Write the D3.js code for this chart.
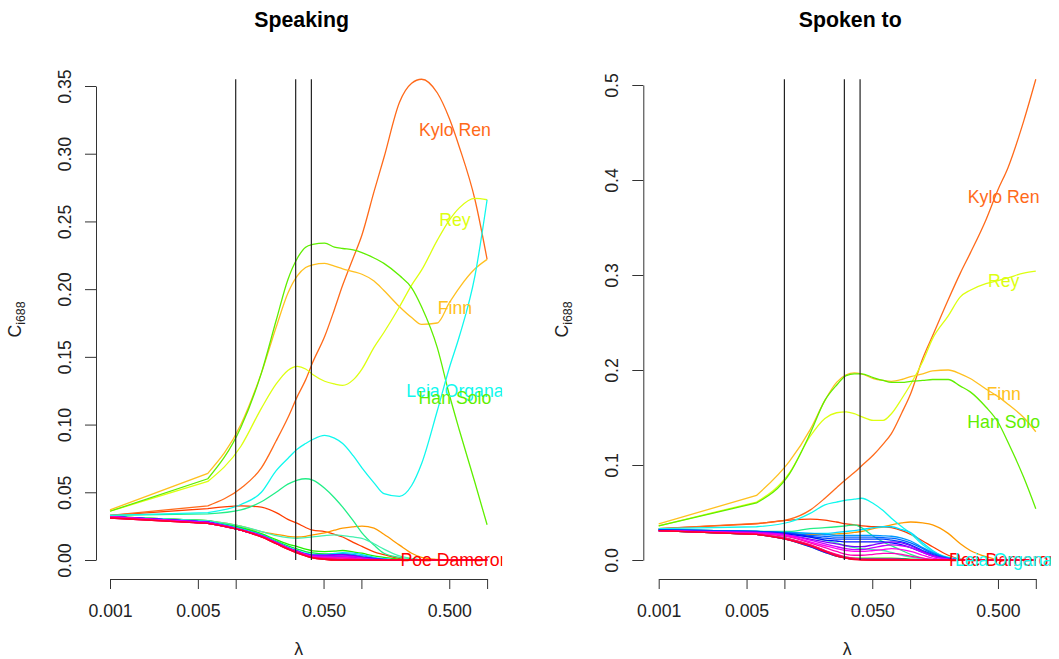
<!DOCTYPE html>
<html>
<head>
<meta charset="utf-8">
<script src="https://cdn.jsdelivr.net/npm/d3@7"></script>
<style>
body { margin: 0; background: #fff; }
text { font-family: "Liberation Sans", Arial, Helvetica, sans-serif; }
</style>
</head>
<body>
<div id="chart"></div>
<script>
// lambda grid the paths were evaluated on
var lambda = [0.001, 0.006, 0.011, 0.016, 0.021, 0.026, 0.031, 0.036, 0.041, 0.051, 0.061, 0.071,
              0.086, 0.101, 0.126, 0.151, 0.201, 0.251, 0.301, 0.401, 0.501, 0.601, 0.801, 1.0];

// characters, in plotting order (only some are labelled)
var names = ["Poe Dameron", "c1", "Kylo Ren", "c3", "Finn", "Rey", "Han Solo", "c7", "c8", "c9",
             "c10", "Leia Organa", "c12", "c13", "c14", "c15", "c16", "c17", "c18", "c19",
             "c20", "c21", "c22", "c23", "c24"];
var colors = ["#FF0000", "#FF3D00", "#FF6A1A", "#FF9A00", "#FFC020", "#DDFF10", "#5FEF00", "#22EE00",
              "#00EE3A", "#22EE88", "#44F0B0", "#10F8EE", "#00DDFF", "#0099FF", "#0066FF", "#0040FF",
              "#0010FF", "#3300FF", "#7A00FF", "#C800FF", "#FF00F0", "#FF00B8", "#FF0088", "#FF0058",
              "#FF002A"];

// C_i688 while speaking, one row per character
var speaking = [
  [0.032, 0.027, 0.022, 0.017, 0.012, 0.008, 0.005, 0.003, 0.0015, 0.0005, 0, 0, 0, 0, 0, 0, 0, 0, 0, 0, 0, 0, 0, 0], // Poe Dameron
  [0.033, 0.038, 0.040, 0.039, 0.035, 0.030, 0.027, 0.024, 0.022, 0.021, 0.019, 0.017, 0.013, 0.010, 0.006, 0.004, 0.001, 0, 0, 0, 0, 0, 0, 0],
  [0.033, 0.040, 0.053, 0.068, 0.088, 0.105, 0.121, 0.133, 0.146, 0.165, 0.185, 0.203, 0.223, 0.240, 0.272, 0.297, 0.338, 0.352, 0.355, 0.345, 0.326, 0.305, 0.266, 0.222], // Kylo Ren
  [0.032, 0.029, 0.025, 0.021, 0.019, 0.0175, 0.017, 0.0175, 0.0185, 0.020, 0.022, 0.0235, 0.0245, 0.025, 0.0235, 0.019, 0.011, 0.005, 0.002, 0.0005, 0, 0, 0, 0],
  [0.037, 0.064, 0.100, 0.138, 0.172, 0.197, 0.210, 0.216, 0.218, 0.219, 0.217, 0.215, 0.213, 0.211, 0.206, 0.199, 0.187, 0.179, 0.174, 0.175, 0.190, 0.201, 0.215, 0.222], // Finn
  [0.036, 0.058, 0.084, 0.112, 0.130, 0.140, 0.143, 0.141, 0.137, 0.132, 0.130, 0.129, 0.133, 0.141, 0.157, 0.168, 0.187, 0.203, 0.214, 0.236, 0.251, 0.260, 0.267, 0.266], // Rey
  [0.036, 0.060, 0.098, 0.138, 0.177, 0.207, 0.223, 0.231, 0.233, 0.234, 0.231, 0.230, 0.229, 0.227, 0.223, 0.219, 0.210, 0.201, 0.187, 0.157, 0.122, 0.096, 0.057, 0.026], // Han Solo
  [0.032, 0.029, 0.024, 0.0195, 0.015, 0.0118, 0.0098, 0.008, 0.0068, 0.0062, 0.0065, 0.007, 0.006, 0.005, 0.003, 0.002, 0.0005, 0, 0, 0, 0, 0, 0, 0],
  [0.032, 0.029, 0.0235, 0.019, 0.014, 0.0105, 0.008, 0.0062, 0.0052, 0.0045, 0.0045, 0.0045, 0.0035, 0.0025, 0.0012, 0.0005, 0, 0, 0, 0, 0, 0, 0, 0],
  [0.033, 0.034, 0.037, 0.043, 0.050, 0.056, 0.059, 0.060, 0.059, 0.053, 0.046, 0.039, 0.029, 0.020, 0.011, 0.005, 0.002, 0.001, 0, 0, 0, 0, 0, 0],
  [0.032, 0.029, 0.025, 0.021, 0.018, 0.0165, 0.016, 0.0165, 0.017, 0.018, 0.0185, 0.018, 0.017, 0.016, 0.012, 0.008, 0.003, 0.001, 0, 0, 0, 0, 0, 0],
  [0.033, 0.035, 0.041, 0.050, 0.066, 0.075, 0.082, 0.086, 0.089, 0.092, 0.090, 0.086, 0.077, 0.068, 0.057, 0.049, 0.047, 0.055, 0.071, 0.110, 0.142, 0.165, 0.210, 0.266], // Leia Organa
  [0.032, 0.0285, 0.023, 0.0185, 0.0135, 0.0095, 0.007, 0.005, 0.0042, 0.004, 0.0048, 0.0055, 0.005, 0.004, 0.002, 0.001, 0, 0, 0, 0, 0, 0, 0, 0],
  [0.032, 0.028, 0.0225, 0.018, 0.013, 0.009, 0.0065, 0.0045, 0.0035, 0.0035, 0.004, 0.0045, 0.004, 0.003, 0.0015, 0.0005, 0, 0, 0, 0, 0, 0, 0, 0],
  [0.032, 0.028, 0.0222, 0.0178, 0.0128, 0.0088, 0.006, 0.0038, 0.0025, 0.002, 0.002, 0.002, 0.0018, 0.0015, 0.001, 0.0005, 0, 0, 0, 0, 0, 0, 0, 0],
  [0.032, 0.028, 0.022, 0.0175, 0.0125, 0.0085, 0.0058, 0.0036, 0.0022, 0.0015, 0.0015, 0.0018, 0.0015, 0.001, 0.0005, 0, 0, 0, 0, 0, 0, 0, 0, 0],
  [0.032, 0.028, 0.022, 0.0175, 0.0125, 0.0085, 0.0058, 0.0038, 0.0025, 0.002, 0.0022, 0.0022, 0.002, 0.0015, 0.0008, 0, 0, 0, 0, 0, 0, 0, 0, 0],
  [0.032, 0.028, 0.022, 0.0175, 0.0125, 0.0085, 0.006, 0.0042, 0.0032, 0.003, 0.0035, 0.0038, 0.003, 0.002, 0.001, 0, 0, 0, 0, 0, 0, 0, 0, 0],
  [0.032, 0.028, 0.0225, 0.018, 0.013, 0.009, 0.0065, 0.0045, 0.0035, 0.0035, 0.004, 0.004, 0.0032, 0.002, 0.001, 0.0003, 0, 0, 0, 0, 0, 0, 0, 0],
  [0.032, 0.028, 0.0225, 0.018, 0.013, 0.009, 0.0062, 0.0042, 0.003, 0.0028, 0.003, 0.003, 0.0025, 0.0015, 0.0005, 0, 0, 0, 0, 0, 0, 0, 0, 0],
  [0.032, 0.027, 0.022, 0.0175, 0.0125, 0.0086, 0.006, 0.004, 0.0025, 0.002, 0.002, 0.002, 0.0015, 0.0008, 0, 0, 0, 0, 0, 0, 0, 0, 0, 0],
  [0.032, 0.027, 0.022, 0.0175, 0.0125, 0.0085, 0.0058, 0.0036, 0.0022, 0.0015, 0.0015, 0.0014, 0.001, 0.0005, 0, 0, 0, 0, 0, 0, 0, 0, 0, 0],
  [0.031, 0.027, 0.022, 0.0175, 0.0125, 0.0085, 0.0058, 0.0035, 0.002, 0.001, 0.0008, 0.0006, 0.0003, 0, 0, 0, 0, 0, 0, 0, 0, 0, 0, 0],
  [0.031, 0.027, 0.022, 0.0172, 0.0122, 0.0082, 0.0055, 0.0033, 0.0018, 0.0008, 0.0004, 0, 0, 0, 0, 0, 0, 0, 0, 0, 0, 0, 0, 0],
  [0.031, 0.027, 0.022, 0.017, 0.012, 0.008, 0.005, 0.003, 0.0015, 0.0005, 0, 0, 0, 0, 0, 0, 0, 0, 0, 0, 0, 0, 0, 0]
];

// C_i688 while spoken to
var spokenTo = [
  [0.031, 0.027, 0.022, 0.016, 0.010, 0.005, 0.002, 0.001, 0.0003, 0, 0, 0, 0, 0, 0, 0, 0, 0, 0, 0, 0, 0, 0, 0], // Poe Dameron
  [0.033, 0.038, 0.042, 0.043, 0.042, 0.040, 0.038, 0.037, 0.036, 0.035, 0.035, 0.034, 0.031, 0.027, 0.020, 0.014, 0.005, 0.001, 0, 0, 0, 0, 0, 0],
  [0.033, 0.0385, 0.043, 0.0525, 0.065, 0.076, 0.085, 0.092, 0.099, 0.1105, 0.122, 0.133, 0.155, 0.175, 0.212, 0.236, 0.274, 0.302, 0.323, 0.358, 0.390, 0.413, 0.462, 0.506], // Kylo Ren
  [0.032, 0.030, 0.028, 0.027, 0.027, 0.0275, 0.028, 0.029, 0.030, 0.033, 0.035, 0.037, 0.039, 0.040, 0.039, 0.037, 0.028, 0.017, 0.010, 0.0035, 0.0005, 0, 0, 0],
  [0.038, 0.068, 0.104, 0.137, 0.168, 0.187, 0.195, 0.197, 0.196, 0.191, 0.189, 0.188, 0.190, 0.193, 0.196, 0.199, 0.200, 0.196, 0.191, 0.180, 0.172, 0.164, 0.150, 0.135], // Finn
  [0.036, 0.061, 0.092, 0.130, 0.149, 0.155, 0.156, 0.154, 0.151, 0.147, 0.147, 0.154, 0.170, 0.185, 0.209, 0.233, 0.257, 0.277, 0.284, 0.291, 0.294, 0.297, 0.302, 0.304], // Rey
  [0.036, 0.060, 0.091, 0.133, 0.168, 0.184, 0.194, 0.196, 0.196, 0.192, 0.189, 0.187, 0.187, 0.188, 0.189, 0.190, 0.190, 0.183, 0.177, 0.161, 0.145, 0.124, 0.087, 0.054], // Han Solo
  [0.031, 0.027, 0.022, 0.015, 0.009, 0.005, 0.003, 0.002, 0.002, 0.002, 0.002, 0.002, 0.0015, 0.001, 0.0005, 0, 0, 0, 0, 0, 0, 0, 0, 0],
  [0.031, 0.027, 0.021, 0.014, 0.008, 0.004, 0.002, 0.001, 0.001, 0.001, 0.0008, 0.0005, 0, 0, 0, 0, 0, 0, 0, 0, 0, 0, 0, 0],
  [0.032, 0.030, 0.030, 0.033, 0.034, 0.035, 0.036, 0.037, 0.034, 0.025, 0.019, 0.015, 0.010, 0.006, 0.002, 0.0005, 0, 0, 0, 0, 0, 0, 0, 0],
  [0.032, 0.029, 0.027, 0.024, 0.021, 0.018, 0.015, 0.013, 0.012, 0.011, 0.010, 0.008, 0.005, 0.003, 0.001, 0, 0, 0, 0, 0, 0, 0, 0, 0],
  [0.033, 0.035, 0.040, 0.049, 0.058, 0.061, 0.063, 0.064, 0.065, 0.0595, 0.052, 0.044, 0.035, 0.028, 0.016, 0.009, 0.003, 0.001, 0, 0, 0, 0, 0, 0], // Leia Organa
  [0.032, 0.030, 0.029, 0.028, 0.028, 0.029, 0.030, 0.031, 0.032, 0.034, 0.035, 0.035, 0.032, 0.029, 0.018, 0.010, 0.002, 0.0005, 0, 0, 0, 0, 0, 0],
  [0.032, 0.030, 0.029, 0.028, 0.027, 0.026, 0.026, 0.026, 0.026, 0.026, 0.0255, 0.025, 0.023, 0.020, 0.013, 0.008, 0.002, 0.0005, 0, 0, 0, 0, 0, 0],
  [0.032, 0.030, 0.028, 0.026, 0.025, 0.024, 0.024, 0.024, 0.024, 0.024, 0.0235, 0.023, 0.021, 0.018, 0.012, 0.007, 0.002, 0, 0, 0, 0, 0, 0, 0],
  [0.032, 0.030, 0.028, 0.025, 0.023, 0.022, 0.022, 0.022, 0.022, 0.022, 0.022, 0.021, 0.019, 0.016, 0.010, 0.006, 0.001, 0, 0, 0, 0, 0, 0, 0],
  [0.031, 0.029, 0.027, 0.024, 0.021, 0.020, 0.019, 0.019, 0.019, 0.019, 0.019, 0.018, 0.016, 0.013, 0.008, 0.004, 0.001, 0, 0, 0, 0, 0, 0, 0],
  [0.031, 0.027, 0.021, 0.014, 0.008, 0.004, 0.002, 0.001, 0.001, 0.001, 0.001, 0.001, 0.0008, 0.0005, 0, 0, 0, 0, 0, 0, 0, 0, 0, 0],
  [0.031, 0.029, 0.026, 0.022, 0.019, 0.017, 0.015, 0.014, 0.014, 0.016, 0.018, 0.019, 0.018, 0.015, 0.009, 0.005, 0.001, 0, 0, 0, 0, 0, 0, 0],
  [0.031, 0.029, 0.026, 0.021, 0.017, 0.014, 0.012, 0.011, 0.011, 0.013, 0.015, 0.016, 0.015, 0.013, 0.008, 0.004, 0.001, 0, 0, 0, 0, 0, 0, 0],
  [0.031, 0.028, 0.025, 0.019, 0.015, 0.012, 0.010, 0.009, 0.009, 0.010, 0.011, 0.012, 0.011, 0.009, 0.005, 0.002, 0.0005, 0, 0, 0, 0, 0, 0, 0],
  [0.031, 0.028, 0.024, 0.018, 0.013, 0.009, 0.006, 0.005, 0.005, 0.006, 0.007, 0.007, 0.006, 0.004, 0.002, 0.0005, 0, 0, 0, 0, 0, 0, 0, 0],
  [0.031, 0.027, 0.022, 0.016, 0.010, 0.006, 0.003, 0.002, 0.001, 0.001, 0.001, 0.001, 0.0005, 0, 0, 0, 0, 0, 0, 0, 0, 0, 0, 0],
  [0.031, 0.027, 0.021, 0.015, 0.009, 0.005, 0.002, 0.001, 0.0005, 0, 0, 0, 0, 0, 0, 0, 0, 0, 0, 0, 0, 0, 0, 0],
  [0.031, 0.027, 0.021, 0.015, 0.009, 0.004, 0.002, 0.0005, 0, 0, 0, 0, 0, 0, 0, 0, 0, 0, 0, 0, 0, 0, 0, 0]
];

// labelled characters and the height of their label in each panel
var labelled = ["Poe Dameron", "Kylo Ren", "Finn", "Rey", "Leia Organa", "Han Solo"];
var speakingLabelY = [0, 0.318, 0.186, 0.251, 0.125, 0.120];
var spokenLabelY = [0, 0.382, 0.175, 0.294, 0, 0.146];
var labelLambda = 0.555;

// chosen lambda cut-offs
var cutoffs = [0.01, 0.03, 0.04];

var xTicks = [0.001, 0.005, 0.01, 0.05, 0.1, 0.5, 1];
var xTickLabels = ["0.001", "0.005", "", "0.050", "", "0.500", ""];
var speakingTicks = [0, 0.05, 0.10, 0.15, 0.20, 0.25, 0.30, 0.35];
var spokenTicks = [0, 0.1, 0.2, 0.3, 0.4, 0.5];

var W = 1059, H = 659;
var svg = d3.select("#chart").append("svg").attr("width", W).attr("height", H);

var panels = [
    {id: "p0", title: "Speaking", values: speaking, labelY: speakingLabelY, ticks: speakingTicks,
     fmt: d3.format(".2f"), xr: [110, 487.1], yr: [560, 86], clip: [95, 60, 502.2, 579],
     axisX: 96, ylabX: 21},
    {id: "p1", title: "Spoken to", values: spokenTo, labelY: spokenLabelY, ticks: spokenTicks,
     fmt: d3.format(".1f"), xr: [658.7, 1035.8], yr: [560, 85], clip: [643.5, 60, 1050.9, 579],
     axisX: 643.3, ylabX: 567.5}
];

panels.forEach(drawPanel);

function drawPanel(p) {
    var x = d3.scaleLog().domain([0.001, 1]).range(p.xr);
    var y = d3.scaleLinear().domain([0, d3.max(p.ticks)]).range(p.yr);
    var cx = (p.clip[0] + p.clip[2]) / 2;

    svg.append("clipPath").attr("id", "clip-" + p.id)
        .append("rect")
        .attr("x", p.clip[0]).attr("y", p.clip[1])
        .attr("width", p.clip[2] - p.clip[0]).attr("height", p.clip[3] - p.clip[1]);

    var g = svg.append("g").attr("clip-path", "url(#clip-" + p.id + ")");

    // character paths: straight first step, smooth after the 0.006 knot
    var smooth = d3.line()
        .x(function(d, i) { return x(lambda[i + 1]); })
        .y(function(d) { return y(d); })
        .curve(d3.curveMonotoneX);
    function pathFor(row) {
        var rest = smooth(row.slice(1));
        return "M" + x(lambda[0]) + "," + y(row[0]) + "L" + rest.slice(1);
    }

    g.selectAll("path.series")
        .data(p.values)
        .enter().append("path")
        .attr("class", "series")
        .attr("d", pathFor)
        .attr("fill", "none")
        .attr("stroke", function(d, i) { return colors[i]; })
        .attr("stroke-width", 1.3);

    // cut-off segments
    var top = d3.max(p.values, function(r) { return d3.max(r); });
    g.selectAll("line.cut")
        .data(cutoffs)
        .enter().append("line")
        .attr("class", "cut")
        .attr("x1", function(d) { return x(d); })
        .attr("x2", function(d) { return x(d); })
        .attr("y1", y(0))
        .attr("y2", y(top))
        .attr("stroke", "#222")
        .attr("stroke-width", 1.2);

    // labels
    labelled.forEach(function(name, k) {
        var i = names.indexOf(name);
        g.append("text")
            .attr("x", x(labelLambda))
            .attr("y", y(p.labelY[k]))
            .attr("dy", "0.36em")
            .attr("text-anchor", "middle")
            .attr("font-size", "17.7px")
            .attr("fill", colors[i])
            .text(name);
    });

    // x axis
    var xa = svg.append("g")
        .attr("transform", "translate(0,579)")
        .call(d3.axisBottom(x).tickValues(xTicks)
              .tickFormat(function(d, i) { return xTickLabels[i]; })
              .tickSize(10).tickSizeOuter(0));
    xa.selectAll("text").attr("y", 37.5).attr("dy", null)
        .attr("font-size", "17.7px").attr("fill", "#222");

    // y axis
    var ya = svg.append("g")
        .attr("transform", "translate(" + p.axisX + ",0)")
        .call(d3.axisLeft(y).tickValues(p.ticks).tickFormat(p.fmt)
              .tickSize(11).tickSizeOuter(0));
    ya.selectAll("text")
        .attr("x", null).attr("dy", null)
        .attr("text-anchor", "middle")
        .attr("transform", "translate(-25,0) rotate(-90)")
        .attr("font-size", "17.7px").attr("fill", "#222");

    svg.selectAll(".domain, .tick line").attr("stroke", "#333");

    // titles
    svg.append("text")
        .attr("x", cx + 3).attr("y", 27)
        .attr("text-anchor", "middle")
        .attr("font-size", "21.3px").attr("font-weight", "bold")
        .text(p.title);

    svg.append("text")
        .attr("x", cx).attr("y", 655)
        .attr("text-anchor", "middle")
        .attr("font-size", "17.7px").attr("fill", "#222")
        .text("λ");

    var yl = svg.append("text")
        .attr("transform", "translate(" + p.ylabX + ",319.5) rotate(-90)")
        .attr("text-anchor", "middle")
        .attr("font-size", "17.7px").attr("fill", "#222");
    yl.append("tspan").text("C");
    yl.append("tspan").attr("font-size", "12.4px").attr("dy", "4").text("i688");
}
</script>
</body>
</html>
